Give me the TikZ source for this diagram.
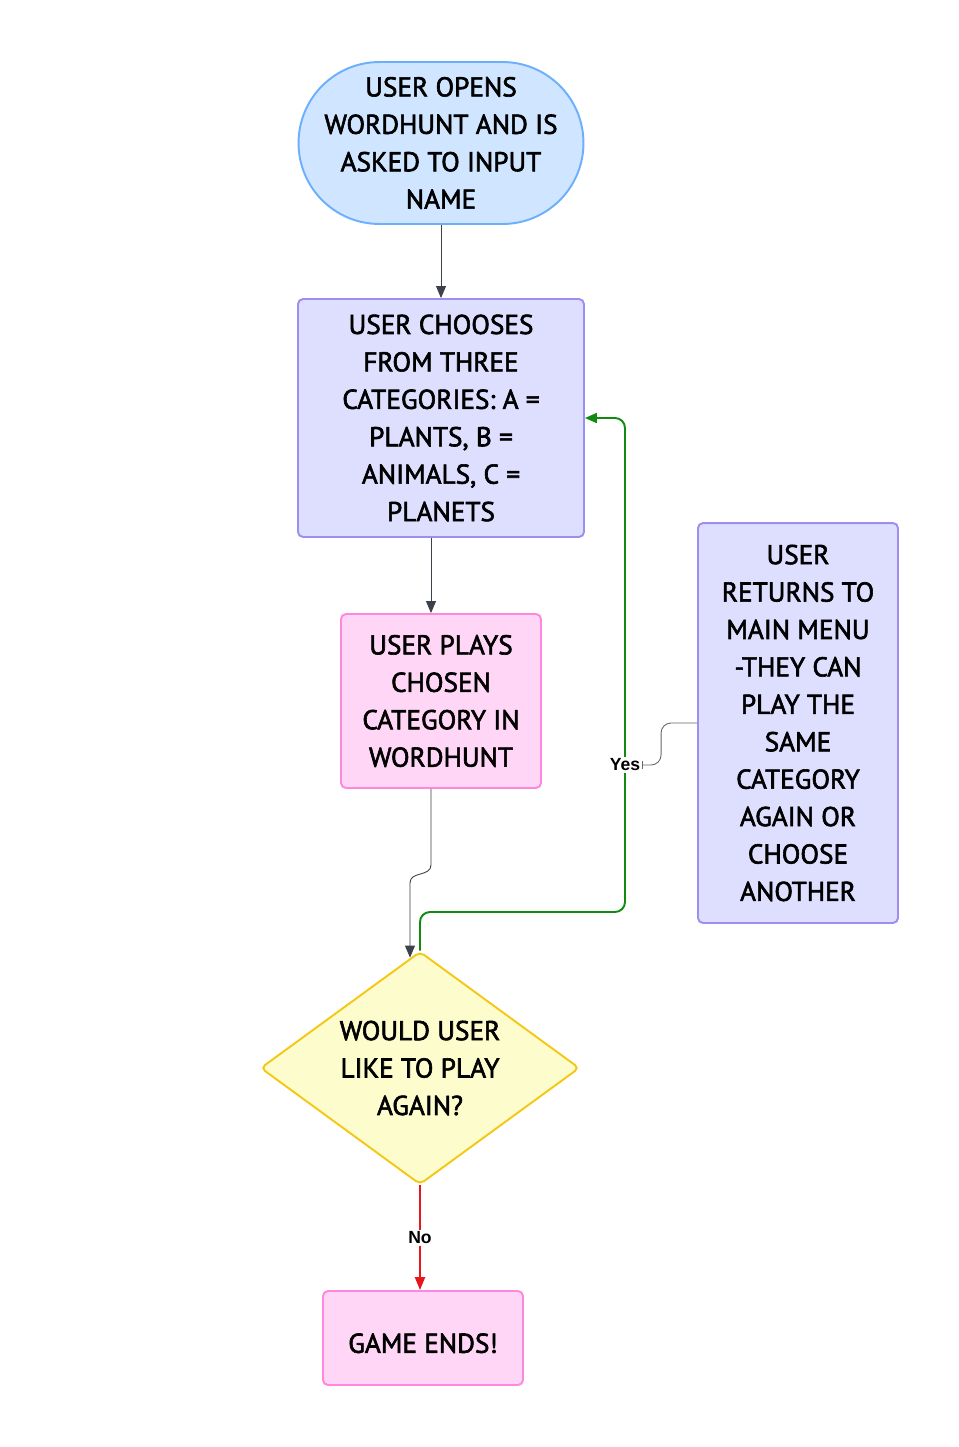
\documentclass[tikz,border=0pt]{standalone}
\usepackage{fontspec}
\setmainfont{PT Sans}
\newfontfamily\handfont[FakeBold=2.2]{PT Sans}
\newfontfamily\lblfont{Liberation Sans}
\usetikzlibrary{arrows.meta,shapes.geometric,calc}
\definecolor{startfill}{HTML}{D0E5FF}
\definecolor{startline}{HTML}{6CAFFF}
\definecolor{lavfill}{HTML}{DEDEFF}
\definecolor{lavline}{HTML}{9C8FF0}
\definecolor{pinkfill}{HTML}{FFD6F6}
\definecolor{pinkline}{HTML}{FF88DD}
\definecolor{yelfill}{HTML}{FCFCCC}
\definecolor{yelline}{HTML}{F5C816}
\definecolor{flowgray}{HTML}{3D4149}
\definecolor{yesgreen}{HTML}{108A10}
\definecolor{nored}{HTML}{E8161A}
\begin{document}
\begin{tikzpicture}[x=0.02cm, y=-0.02cm,
    txt/.style={font=\handfont\fontsize{15.5}{21.3}\selectfont, align=center, execute at begin node={\rule{0pt}{17pt}}, line width=1.1pt},
    startbox/.style={txt, draw=startline, fill=startfill, minimum width=5.7cm, minimum height=3.24cm, rounded corners=1.62cm},
    stepbox/.style={txt, draw=lavline, fill=lavfill, rounded corners=0.1cm},
    pinkbox/.style={txt, draw=pinkline, fill=pinkfill, rounded corners=0.1cm},
    decision/.style={txt, shape=diamond, draw=yelline, fill=yelfill, rounded corners=0.1cm, inner sep=-4pt, aspect=1.37, minimum width=6.38cm, minimum height=4.66cm},
    flow/.style={draw=flowgray, line width=0.5pt, -{Triangle[length=0.24cm,width=0.2cm]}},
    yesflow/.style={draw=yesgreen, line width=1.1pt, -{Triangle[length=0.24cm,width=0.2cm]}},
    noflow/.style={draw=nored, line width=1.3pt, -{Triangle[length=0.26cm,width=0.2cm]}},
    noteline/.style={draw=flowgray!80, line width=0.5pt, -{Bar[width=4.5pt]}},
    lbl/.style={font=\lblfont\bfseries\fontsize{10}{11}\selectfont, fill=white, inner sep=1pt}]
    \fill[white] (0, 0) rectangle (959, 1447);
    \useasboundingbox (0, 0) rectangle (959, 1447);
    \node[startbox] (start) at(441, 143) {USER OPENS\\WORDHUNT AND IS\\ASKED TO INPUT\\NAME};
    \node[stepbox, minimum width=5.72cm, minimum height=4.76cm] (choose) at(441, 418) {USER CHOOSES\\FROM THREE\\CATEGORIES: A =\\PLANTS, B =\\ANIMALS, C =\\PLANETS};
    \node[pinkbox, minimum width=4cm, minimum height=3.48cm] (play) at(441, 701) {USER PLAYS\\CHOSEN\\CATEGORY IN\\WORDHUNT};
    \node[decision] (again) at(420, 1068) {WOULD USER\\LIKE TO PLAY\\AGAIN?};
    \node[pinkbox, minimum width=4cm, minimum height=1.88cm] (gameend) at(423, 1338) {GAME ENDS!};
    \node[stepbox, minimum width=4cm, minimum height=8cm] (menu) at(798, 723) {USER\\RETURNS TO\\MAIN MENU\\-THEY CAN\\PLAY THE\\SAME\\CATEGORY\\AGAIN OR\\CHOOSE\\ANOTHER};
    \draw[flow] (start.south) -- (choose.north);
    \draw[flow] ($(choose.south)+(-10, 0)$) -- ($(play.north)+(-10, 0)$);
    \coordinate (s1) at ($(play.south)+(-10, 76)$);
    \coordinate (s2) at ($(play.south)+(-31, 94)$);
    \draw[flow] ($(play.south)+(-10, 0)$) -- (s1) .. controls ($(s1)+(0, 12)$) and ($(s2)+(0, -12)$) .. (s2) -- ($(again.north)+(-10, 7)$);
    \coordinate (loop) at(625, 912);
    \draw[yesflow, rounded corners=0.2cm] (again.north) |- (loop) |- (choose.east);
    \node[lbl] (yes) at(625, 765) {Yes};
    \draw[noteline, rounded corners=0.2cm] (menu.west) -- ++(-36, 0) |- (yes.east);
    \draw[noflow] (again.south) -- node[lbl] (no) {No} (again.south |- gameend.north);
\end{tikzpicture}
\end{document}
